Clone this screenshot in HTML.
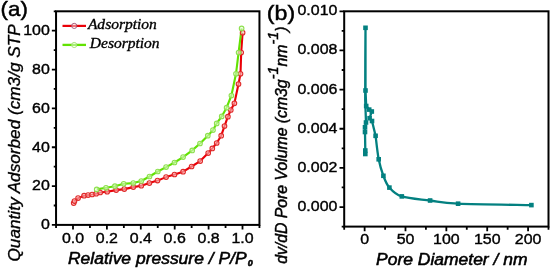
<!DOCTYPE html>
<html><head><meta charset="utf-8"><style>
html,body{margin:0;padding:0;background:#fff;}
svg{display:block;filter:blur(0.3px);}
</style></head><body>
<svg width="550" height="269" viewBox="0 0 550 269">
<rect width="550" height="269" fill="#fff"/>
<rect x="56.05" y="11.30" width="203.40" height="213.60" fill="none" stroke="#000" stroke-width="2"/>
<rect x="344.20" y="11.30" width="204.30" height="215.30" fill="none" stroke="#000" stroke-width="2"/>
<path d="M56.05,224.90h-4.2 M56.05,205.48h-2.3 M56.05,186.06h-4.2 M56.05,166.65h-2.3 M56.05,147.23h-4.2 M56.05,127.81h-2.3 M56.05,108.39h-4.2 M56.05,88.97h-2.3 M56.05,69.55h-4.2 M56.05,50.14h-2.3 M56.05,30.72h-4.2 M56.05,11.30h-2.3 M56.05,224.90v3.1 M73.00,224.90v4.6 M89.95,224.90v3.1 M106.90,224.90v4.6 M123.85,224.90v3.1 M140.80,224.90v4.6 M157.75,224.90v3.1 M174.70,224.90v4.6 M191.65,224.90v3.1 M208.60,224.90v4.6 M225.55,224.90v3.1 M242.50,224.90v4.6 M259.45,224.90v3.1 M344.20,226.60h-2.5 M344.20,207.03h-4.7 M344.20,187.45h-2.5 M344.20,167.88h-4.7 M344.20,148.31h-2.5 M344.20,128.74h-4.7 M344.20,109.16h-2.5 M344.20,89.59h-4.7 M344.20,70.02h-2.5 M344.20,50.45h-4.7 M344.20,30.87h-2.5 M344.20,11.30h-4.7 M344.20,226.60v3.1 M364.63,226.60v4.6 M385.06,226.60v3.1 M405.49,226.60v4.6 M425.92,226.60v3.1 M446.35,226.60v4.6 M466.78,226.60v3.1 M487.21,226.60v4.6 M507.64,226.60v3.1 M528.07,226.60v4.6 M548.50,226.60v3.1" stroke="#000" stroke-width="1.8" fill="none"/>
<g transform="translate(49.80,229.30) scale(1.03,1)"><text x="0" y="0" font-family="Liberation Sans, sans-serif" font-size="15.5" font-weight="normal" font-style="normal" text-anchor="end" stroke="#000" stroke-width="0.4" >0</text></g>
<g transform="translate(49.80,190.46) scale(1.03,1)"><text x="0" y="0" font-family="Liberation Sans, sans-serif" font-size="15.5" font-weight="normal" font-style="normal" text-anchor="end" stroke="#000" stroke-width="0.4" >20</text></g>
<g transform="translate(49.80,151.63) scale(1.03,1)"><text x="0" y="0" font-family="Liberation Sans, sans-serif" font-size="15.5" font-weight="normal" font-style="normal" text-anchor="end" stroke="#000" stroke-width="0.4" >40</text></g>
<g transform="translate(49.80,112.79) scale(1.03,1)"><text x="0" y="0" font-family="Liberation Sans, sans-serif" font-size="15.5" font-weight="normal" font-style="normal" text-anchor="end" stroke="#000" stroke-width="0.4" >60</text></g>
<g transform="translate(49.80,73.95) scale(1.03,1)"><text x="0" y="0" font-family="Liberation Sans, sans-serif" font-size="15.5" font-weight="normal" font-style="normal" text-anchor="end" stroke="#000" stroke-width="0.4" >80</text></g>
<g transform="translate(49.80,35.12) scale(1.03,1)"><text x="0" y="0" font-family="Liberation Sans, sans-serif" font-size="15.5" font-weight="normal" font-style="normal" text-anchor="end" stroke="#000" stroke-width="0.4" >100</text></g>
<g transform="translate(73.00,242.60) scale(1.03,1)"><text x="0" y="0" font-family="Liberation Sans, sans-serif" font-size="15.5" font-weight="normal" font-style="normal" text-anchor="middle" stroke="#000" stroke-width="0.4" >0.0</text></g>
<g transform="translate(106.90,242.60) scale(1.03,1)"><text x="0" y="0" font-family="Liberation Sans, sans-serif" font-size="15.5" font-weight="normal" font-style="normal" text-anchor="middle" stroke="#000" stroke-width="0.4" >0.2</text></g>
<g transform="translate(140.80,242.60) scale(1.03,1)"><text x="0" y="0" font-family="Liberation Sans, sans-serif" font-size="15.5" font-weight="normal" font-style="normal" text-anchor="middle" stroke="#000" stroke-width="0.4" >0.4</text></g>
<g transform="translate(174.70,242.60) scale(1.03,1)"><text x="0" y="0" font-family="Liberation Sans, sans-serif" font-size="15.5" font-weight="normal" font-style="normal" text-anchor="middle" stroke="#000" stroke-width="0.4" >0.6</text></g>
<g transform="translate(208.60,242.60) scale(1.03,1)"><text x="0" y="0" font-family="Liberation Sans, sans-serif" font-size="15.5" font-weight="normal" font-style="normal" text-anchor="middle" stroke="#000" stroke-width="0.4" >0.8</text></g>
<g transform="translate(242.50,242.60) scale(1.03,1)"><text x="0" y="0" font-family="Liberation Sans, sans-serif" font-size="15.5" font-weight="normal" font-style="normal" text-anchor="middle" stroke="#000" stroke-width="0.4" >1.0</text></g>
<g transform="translate(337.40,211.03) scale(1.03,1)"><text x="0" y="0" font-family="Liberation Sans, sans-serif" font-size="15.5" font-weight="normal" font-style="normal" text-anchor="end" stroke="#000" stroke-width="0.4" >0.000</text></g>
<g transform="translate(337.40,171.88) scale(1.03,1)"><text x="0" y="0" font-family="Liberation Sans, sans-serif" font-size="15.5" font-weight="normal" font-style="normal" text-anchor="end" stroke="#000" stroke-width="0.4" >0.002</text></g>
<g transform="translate(337.40,132.74) scale(1.03,1)"><text x="0" y="0" font-family="Liberation Sans, sans-serif" font-size="15.5" font-weight="normal" font-style="normal" text-anchor="end" stroke="#000" stroke-width="0.4" >0.004</text></g>
<g transform="translate(337.40,93.59) scale(1.03,1)"><text x="0" y="0" font-family="Liberation Sans, sans-serif" font-size="15.5" font-weight="normal" font-style="normal" text-anchor="end" stroke="#000" stroke-width="0.4" >0.006</text></g>
<g transform="translate(337.40,54.45) scale(1.03,1)"><text x="0" y="0" font-family="Liberation Sans, sans-serif" font-size="15.5" font-weight="normal" font-style="normal" text-anchor="end" stroke="#000" stroke-width="0.4" >0.008</text></g>
<g transform="translate(337.40,15.30) scale(1.03,1)"><text x="0" y="0" font-family="Liberation Sans, sans-serif" font-size="15.5" font-weight="normal" font-style="normal" text-anchor="end" stroke="#000" stroke-width="0.4" >0.010</text></g>
<g transform="translate(364.63,244.20) scale(1.03,1)"><text x="0" y="0" font-family="Liberation Sans, sans-serif" font-size="15.5" font-weight="normal" font-style="normal" text-anchor="middle" stroke="#000" stroke-width="0.4" >0</text></g>
<g transform="translate(405.49,244.20) scale(1.03,1)"><text x="0" y="0" font-family="Liberation Sans, sans-serif" font-size="15.5" font-weight="normal" font-style="normal" text-anchor="middle" stroke="#000" stroke-width="0.4" >50</text></g>
<g transform="translate(446.35,244.20) scale(1.03,1)"><text x="0" y="0" font-family="Liberation Sans, sans-serif" font-size="15.5" font-weight="normal" font-style="normal" text-anchor="middle" stroke="#000" stroke-width="0.4" >100</text></g>
<g transform="translate(487.21,244.20) scale(1.03,1)"><text x="0" y="0" font-family="Liberation Sans, sans-serif" font-size="15.5" font-weight="normal" font-style="normal" text-anchor="middle" stroke="#000" stroke-width="0.4" >150</text></g>
<g transform="translate(528.07,244.20) scale(1.03,1)"><text x="0" y="0" font-family="Liberation Sans, sans-serif" font-size="15.5" font-weight="normal" font-style="normal" text-anchor="middle" stroke="#000" stroke-width="0.4" >200</text></g>
<g transform="translate(0.60,16.00) scale(1.09,1)"><text x="0" y="0" font-family="Liberation Sans, sans-serif" font-size="20.5" font-weight="normal" font-style="normal" text-anchor="start" stroke="#000" stroke-width="0.45" >(a)</text></g>
<g transform="translate(266.80,19.80) scale(1.13,1)"><text x="0" y="0" font-family="Liberation Sans, sans-serif" font-size="20.5" font-weight="normal" font-style="normal" text-anchor="start" stroke="#000" stroke-width="0.45" >(b)</text></g>
<g transform="translate(68.00,263.60) scale(1.04,1)"><text x="0" y="0" font-family="Liberation Sans, sans-serif" font-size="16.8" font-weight="normal" font-style="italic" text-anchor="start" stroke="#000" stroke-width="0.55" >Relative pressure / P/P<tspan font-size="8.6" dx="1.2" dy="2.2" font-weight="bold">0</tspan></text></g>
<g transform="translate(376.00,264.90) scale(1.035,1)"><text x="0" y="0" font-family="Liberation Sans, sans-serif" font-size="16.9" font-weight="normal" font-style="italic" text-anchor="start" stroke="#000" stroke-width="0.55" >Pore Diameter / nm</text></g>
<g transform="translate(19.50,261.50) scale(0.96,1) rotate(-90)"><text x="0" y="0" font-family="Liberation Sans, sans-serif" font-size="17.2" font-weight="normal" font-style="italic" text-anchor="start" stroke="#000" stroke-width="0.35" >Quantity Adsorbed (cm3/g STP</text></g>
<g transform="translate(287.00,263.80) scale(1.03,1) rotate(-90)"><text x="0" y="0" font-family="Liberation Sans, sans-serif" font-size="15.8" font-weight="normal" font-style="italic" text-anchor="start" stroke="#000" stroke-width="0.45" >dv/dD Pore Volume (cm3g<tspan font-size="14.5" dy="-8.8">-1</tspan><tspan dy="8.8">nm</tspan><tspan font-size="14.5" dy="-8.8">-1</tspan><tspan dy="8.8">)</tspan></text></g>
<path d="M62.5,25.9H86" stroke="#ea0008" stroke-width="2.2"/>
<path d="M62.5,44.9H86" stroke="#62e202" stroke-width="2.3"/>
<circle cx="74.2" cy="25.9" r="2.6" fill="rgba(255,255,255,0.45)" stroke="#a05070" stroke-width="0.9"/>
<circle cx="74.2" cy="45" r="2.6" fill="rgba(255,255,255,0.45)" stroke="#a0e070" stroke-width="0.9"/>
<g transform="translate(87.90,29.40) scale(1.035,1)"><text x="0" y="0" font-family="Liberation Serif, serif" font-size="15" font-weight="normal" font-style="italic" text-anchor="start" stroke="#000" stroke-width="0.35" >Adsorption</text></g>
<g transform="translate(89.80,48.00) scale(1.035,1)"><text x="0" y="0" font-family="Liberation Serif, serif" font-size="15" font-weight="normal" font-style="italic" text-anchor="start" stroke="#000" stroke-width="0.35" >Desorption</text></g>
<polyline points="73.7,203.1 74.5,201.1 78.1,198.1 84.1,195.7 88.1,195.1 92.1,194.5 96.2,193.7 100.2,192.5 107.2,191.7 116.2,190.1 124.3,189.1 133.3,187.1 141.3,185.7 149.4,183.1 157.5,180.6 166.1,177.1 174.5,174.5 183.1,171.7 191.6,166.5 200.2,161.1 208.2,153.1 212.3,148.4 216.7,143.0 221.2,135.7 224.5,126.1 227.9,116.7 230.8,110.0 234.4,103.3 238.5,84.0 240.5,73.8 241.2,52.5 242.6,32.7" fill="none" stroke="#ea0008" stroke-width="2.1" stroke-linejoin="round"/>
<polyline points="96.7,189.4 106.0,187.8 114.9,186.2 123.7,183.8 133.3,183.1 141.3,181.0 149.5,176.5 157.8,171.5 166.1,167.1 174.5,162.5 183.1,157.1 192.2,150.4 200.0,143.5 207.8,135.7 213.0,130.1 216.7,123.4 221.7,116.4 226.6,107.7 231.4,95.5 236.0,73.8 238.6,52.5 241.6,28.4" fill="none" stroke="#62e202" stroke-width="2.1" stroke-linejoin="round"/>
<circle cx="73.7" cy="203.1" r="2.3" fill="rgba(255,215,215,0.55)" stroke="#e02a2a" stroke-width="1.1"/>
<circle cx="74.5" cy="201.1" r="2.3" fill="rgba(255,215,215,0.55)" stroke="#e02a2a" stroke-width="1.1"/>
<circle cx="78.1" cy="198.1" r="2.3" fill="rgba(255,215,215,0.55)" stroke="#e02a2a" stroke-width="1.1"/>
<circle cx="84.1" cy="195.7" r="2.3" fill="rgba(255,215,215,0.55)" stroke="#e02a2a" stroke-width="1.1"/>
<circle cx="88.1" cy="195.1" r="2.3" fill="rgba(255,215,215,0.55)" stroke="#e02a2a" stroke-width="1.1"/>
<circle cx="92.1" cy="194.5" r="2.3" fill="rgba(255,215,215,0.55)" stroke="#e02a2a" stroke-width="1.1"/>
<circle cx="96.2" cy="193.7" r="2.3" fill="rgba(255,215,215,0.55)" stroke="#e02a2a" stroke-width="1.1"/>
<circle cx="100.2" cy="192.5" r="2.3" fill="rgba(255,215,215,0.55)" stroke="#e02a2a" stroke-width="1.1"/>
<circle cx="107.2" cy="191.7" r="2.3" fill="rgba(255,215,215,0.55)" stroke="#e02a2a" stroke-width="1.1"/>
<circle cx="116.2" cy="190.1" r="2.3" fill="rgba(255,215,215,0.55)" stroke="#e02a2a" stroke-width="1.1"/>
<circle cx="124.3" cy="189.1" r="2.3" fill="rgba(255,215,215,0.55)" stroke="#e02a2a" stroke-width="1.1"/>
<circle cx="133.3" cy="187.1" r="2.3" fill="rgba(255,215,215,0.55)" stroke="#e02a2a" stroke-width="1.1"/>
<circle cx="141.3" cy="185.7" r="2.3" fill="rgba(255,215,215,0.55)" stroke="#e02a2a" stroke-width="1.1"/>
<circle cx="149.4" cy="183.1" r="2.3" fill="rgba(255,215,215,0.55)" stroke="#e02a2a" stroke-width="1.1"/>
<circle cx="157.5" cy="180.6" r="2.3" fill="rgba(255,215,215,0.55)" stroke="#e02a2a" stroke-width="1.1"/>
<circle cx="166.1" cy="177.1" r="2.3" fill="rgba(255,215,215,0.55)" stroke="#e02a2a" stroke-width="1.1"/>
<circle cx="174.5" cy="174.5" r="2.3" fill="rgba(255,215,215,0.55)" stroke="#e02a2a" stroke-width="1.1"/>
<circle cx="183.1" cy="171.7" r="2.3" fill="rgba(255,215,215,0.55)" stroke="#e02a2a" stroke-width="1.1"/>
<circle cx="191.6" cy="166.5" r="2.3" fill="rgba(255,215,215,0.55)" stroke="#e02a2a" stroke-width="1.1"/>
<circle cx="200.2" cy="161.1" r="2.3" fill="rgba(255,215,215,0.55)" stroke="#e02a2a" stroke-width="1.1"/>
<circle cx="208.2" cy="153.1" r="2.3" fill="rgba(255,215,215,0.55)" stroke="#e02a2a" stroke-width="1.1"/>
<circle cx="212.3" cy="148.4" r="2.3" fill="rgba(255,215,215,0.55)" stroke="#e02a2a" stroke-width="1.1"/>
<circle cx="216.7" cy="143" r="2.3" fill="rgba(255,215,215,0.55)" stroke="#e02a2a" stroke-width="1.1"/>
<circle cx="221.2" cy="135.7" r="2.3" fill="rgba(255,215,215,0.55)" stroke="#e02a2a" stroke-width="1.1"/>
<circle cx="224.5" cy="126.1" r="2.3" fill="rgba(255,215,215,0.55)" stroke="#e02a2a" stroke-width="1.1"/>
<circle cx="227.9" cy="116.7" r="2.3" fill="rgba(255,215,215,0.55)" stroke="#e02a2a" stroke-width="1.1"/>
<circle cx="230.8" cy="110" r="2.3" fill="rgba(255,215,215,0.55)" stroke="#e02a2a" stroke-width="1.1"/>
<circle cx="234.4" cy="103.3" r="2.3" fill="rgba(255,215,215,0.55)" stroke="#e02a2a" stroke-width="1.1"/>
<circle cx="238.5" cy="84" r="2.3" fill="rgba(255,215,215,0.55)" stroke="#e02a2a" stroke-width="1.1"/>
<circle cx="240.5" cy="73.8" r="2.3" fill="rgba(255,215,215,0.55)" stroke="#e02a2a" stroke-width="1.1"/>
<circle cx="241.2" cy="52.5" r="2.3" fill="rgba(255,215,215,0.55)" stroke="#e02a2a" stroke-width="1.1"/>
<circle cx="242.6" cy="32.7" r="2.3" fill="rgba(255,215,215,0.55)" stroke="#e02a2a" stroke-width="1.1"/>
<circle cx="96.7" cy="189.4" r="2.3" fill="rgba(235,255,220,0.55)" stroke="#8ee050" stroke-width="1.1"/>
<circle cx="106" cy="187.8" r="2.3" fill="rgba(235,255,220,0.55)" stroke="#8ee050" stroke-width="1.1"/>
<circle cx="114.9" cy="186.2" r="2.3" fill="rgba(235,255,220,0.55)" stroke="#8ee050" stroke-width="1.1"/>
<circle cx="123.7" cy="183.8" r="2.3" fill="rgba(235,255,220,0.55)" stroke="#8ee050" stroke-width="1.1"/>
<circle cx="133.3" cy="183.1" r="2.3" fill="rgba(235,255,220,0.55)" stroke="#8ee050" stroke-width="1.1"/>
<circle cx="141.3" cy="181.0" r="2.3" fill="rgba(235,255,220,0.55)" stroke="#8ee050" stroke-width="1.1"/>
<circle cx="149.5" cy="176.5" r="2.3" fill="rgba(235,255,220,0.55)" stroke="#8ee050" stroke-width="1.1"/>
<circle cx="157.8" cy="171.5" r="2.3" fill="rgba(235,255,220,0.55)" stroke="#8ee050" stroke-width="1.1"/>
<circle cx="166.1" cy="167.1" r="2.3" fill="rgba(235,255,220,0.55)" stroke="#8ee050" stroke-width="1.1"/>
<circle cx="174.5" cy="162.5" r="2.3" fill="rgba(235,255,220,0.55)" stroke="#8ee050" stroke-width="1.1"/>
<circle cx="183.1" cy="157.1" r="2.3" fill="rgba(235,255,220,0.55)" stroke="#8ee050" stroke-width="1.1"/>
<circle cx="192.2" cy="150.4" r="2.3" fill="rgba(235,255,220,0.55)" stroke="#8ee050" stroke-width="1.1"/>
<circle cx="200" cy="143.5" r="2.3" fill="rgba(235,255,220,0.55)" stroke="#8ee050" stroke-width="1.1"/>
<circle cx="207.8" cy="135.7" r="2.3" fill="rgba(235,255,220,0.55)" stroke="#8ee050" stroke-width="1.1"/>
<circle cx="213" cy="130.1" r="2.3" fill="rgba(235,255,220,0.55)" stroke="#8ee050" stroke-width="1.1"/>
<circle cx="216.7" cy="123.4" r="2.3" fill="rgba(235,255,220,0.55)" stroke="#8ee050" stroke-width="1.1"/>
<circle cx="221.7" cy="116.4" r="2.3" fill="rgba(235,255,220,0.55)" stroke="#8ee050" stroke-width="1.1"/>
<circle cx="226.6" cy="107.7" r="2.3" fill="rgba(235,255,220,0.55)" stroke="#8ee050" stroke-width="1.1"/>
<circle cx="231.4" cy="95.5" r="2.3" fill="rgba(235,255,220,0.55)" stroke="#8ee050" stroke-width="1.1"/>
<circle cx="236.0" cy="73.8" r="2.3" fill="rgba(235,255,220,0.55)" stroke="#8ee050" stroke-width="1.1"/>
<circle cx="238.6" cy="52.5" r="2.3" fill="rgba(235,255,220,0.55)" stroke="#8ee050" stroke-width="1.1"/>
<circle cx="241.6" cy="28.4" r="2.3" fill="rgba(235,255,220,0.55)" stroke="#8ee050" stroke-width="1.1"/>
<path d="M531.40,205.10 C519.18,204.87 474.98,204.47 458.10,203.70 C441.22,202.93 439.48,201.72 430.10,200.50 C420.72,199.28 408.58,198.55 401.80,196.40 C395.02,194.25 392.47,191.03 389.40,187.60 C386.33,184.17 385.18,180.52 383.40,175.80 C381.62,171.08 380.00,165.97 378.70,159.30 C377.40,152.63 376.12,139.72 375.60,135.80 L372.00,121.00 L369.60,118.20 L371.80,111.50 L369.20,109.60 L366.20,106.00 L365.50,90.50 L365.50,27.80 L365.30,60.00 L365.20,100.00 L366.00,122.50 L365.00,127.30 L365.00,132.00 L365.30,150.50 L365.30,154.00" fill="none" stroke="#038080" stroke-width="2.3" stroke-linejoin="round"/>
<rect x="529.1" y="202.8" width="4.6" height="4.6" fill="#038080"/>
<rect x="455.8" y="201.4" width="4.6" height="4.6" fill="#038080"/>
<rect x="427.8" y="198.2" width="4.6" height="4.6" fill="#038080"/>
<rect x="399.5" y="194.1" width="4.6" height="4.6" fill="#038080"/>
<rect x="387.1" y="185.3" width="4.6" height="4.6" fill="#038080"/>
<rect x="381.1" y="173.5" width="4.6" height="4.6" fill="#038080"/>
<rect x="376.4" y="157.0" width="4.6" height="4.6" fill="#038080"/>
<rect x="373.3" y="133.5" width="4.6" height="4.6" fill="#038080"/>
<rect x="369.7" y="118.7" width="4.6" height="4.6" fill="#038080"/>
<rect x="367.3" y="115.9" width="4.6" height="4.6" fill="#038080"/>
<rect x="369.5" y="109.2" width="4.6" height="4.6" fill="#038080"/>
<rect x="366.9" y="107.3" width="4.6" height="4.6" fill="#038080"/>
<rect x="363.9" y="103.7" width="4.6" height="4.6" fill="#038080"/>
<rect x="363.2" y="88.2" width="4.6" height="4.6" fill="#038080"/>
<rect x="363.2" y="25.5" width="4.6" height="4.6" fill="#038080"/>
<rect x="363.7" y="120.2" width="4.6" height="4.6" fill="#038080"/>
<rect x="362.7" y="125.0" width="4.6" height="4.6" fill="#038080"/>
<rect x="362.7" y="129.7" width="4.6" height="4.6" fill="#038080"/>
<rect x="363.0" y="148.2" width="4.6" height="4.6" fill="#038080"/>
<rect x="363.0" y="151.7" width="4.6" height="4.6" fill="#038080"/>
</svg>
</body></html>
